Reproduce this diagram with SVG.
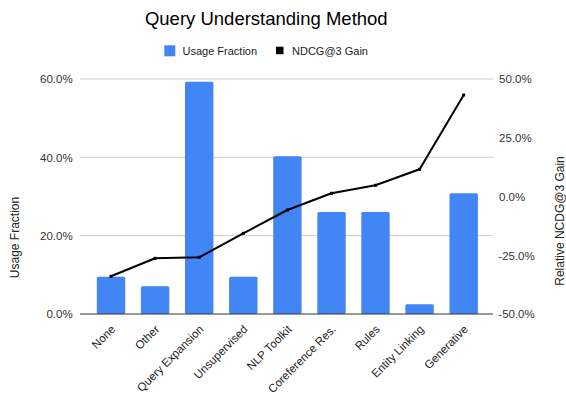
<svg xmlns="http://www.w3.org/2000/svg" width="566" height="400" viewBox="0 0 566 400">
  <style>
    text { font-family: "Liberation Sans", Arial, sans-serif; }
    .title { font-size: 18.5px; fill: #000; }
    .legend { font-size: 11px; fill: #222; }
    .tick { font-size: 11.5px; fill: #333; }
    .axis-title { font-size: 12px; fill: #222; }
    .cat { font-size: 11.5px; fill: #222; text-anchor: end; }
    .grid { stroke: #cccccc; stroke-width: 1; }
    .base { stroke: #333333; stroke-width: 1; }
    .bar { fill: #4285f4; }
    .gain { fill: none; stroke: #000; stroke-width: 2; stroke-linejoin: round; }
    .pt { fill: #000; }
  </style>
  <rect width="566" height="400" fill="#ffffff"/>

  <text class="title" x="266.3" y="25" text-anchor="middle">Query Understanding Method</text>

  <!-- legend -->
  <g id="legend">
    <rect x="164.3" y="45.3" width="11" height="11" fill="#4285f4"/>
    <text class="legend" x="182.5" y="55">Usage Fraction</text>
    <rect x="276" y="46.7" width="7.5" height="7.5" fill="#000"/>
    <text class="legend" x="292" y="55">NDCG@3 Gain</text>
  </g>

  <!-- gridlines -->
  <g id="grid">
    <line class="grid" x1="80" y1="79" x2="493" y2="79"/>
    <line class="grid" x1="80" y1="157.3" x2="493" y2="157.3"/>
    <line class="grid" x1="80" y1="235.7" x2="493" y2="235.7"/>
  </g>

  <!-- left axis -->
  <g id="left-axis" class="tick" text-anchor="end">
    <text x="72.7" y="83">60.0%</text>
    <text x="72.7" y="161.5">40.0%</text>
    <text x="72.7" y="240">20.0%</text>
    <text x="72.7" y="318">0.0%</text>
  </g>
  <text class="axis-title" transform="translate(19,237.5) rotate(-90)" text-anchor="middle">Usage Fraction</text>

  <!-- right axis -->
  <g id="right-axis" class="tick">
    <text x="499" y="83">50.0%</text>
    <text x="499" y="142">25.0%</text>
    <text x="499" y="201">0.0%</text>
    <text x="498.3" y="259.5">-25.0%</text>
    <text x="498.3" y="318">-50.0%</text>
  </g>
  <text class="axis-title" transform="translate(564,221) rotate(-90)" text-anchor="middle">Relative NCDG@3 Gain</text>

  <!-- bars -->
  <g id="bars">
    <g id="bar-none"><rect class="bar" x="96.8" y="276.7" width="28.4" height="37.3" rx="1.5"/></g>
    <g id="bar-other"><rect class="bar" x="140.9" y="286.3" width="28.4" height="27.7" rx="1.5"/></g>
    <g id="bar-query-expansion"><rect class="bar" x="185" y="81.7" width="28.4" height="232.3" rx="1.5"/></g>
    <g id="bar-unsupervised"><rect class="bar" x="229.1" y="276.7" width="28.4" height="37.3" rx="1.5"/></g>
    <g id="bar-nlp-toolkit"><rect class="bar" x="273.2" y="156.3" width="28.4" height="157.7" rx="1.5"/></g>
    <g id="bar-coreference"><rect class="bar" x="317.3" y="212" width="28.4" height="102" rx="1.5"/></g>
    <g id="bar-rules"><rect class="bar" x="361.3" y="212" width="28.4" height="102" rx="1.5"/></g>
    <g id="bar-entity-linking"><rect class="bar" x="405.4" y="304.3" width="28.4" height="9.7" rx="1.5"/></g>
    <g id="bar-generative"><rect class="bar" x="449.5" y="193.3" width="28.4" height="120.7" rx="1.5"/></g>
  </g>

  <line class="base" x1="80" y1="314" x2="493" y2="314"/>

  <!-- NDCG@3 gain series -->
  <g id="connectors">
    <polyline class="gain" points="111,276.3 155.1,258.3 199.2,257.3 243.3,233.3 287.4,210 331.5,193.3 375.5,185.3 419.6,169.3 463.7,95"/>
    <g class="pt">
      <rect x="109.5" y="274.8" width="3" height="3"/>
      <rect x="153.6" y="256.8" width="3" height="3"/>
      <rect x="197.7" y="255.8" width="3" height="3"/>
      <rect x="241.8" y="231.8" width="3" height="3"/>
      <rect x="285.9" y="208.5" width="3" height="3"/>
      <rect x="330" y="191.8" width="3" height="3"/>
      <rect x="374" y="183.8" width="3" height="3"/>
      <rect x="418.1" y="167.8" width="3" height="3"/>
      <rect x="462.2" y="93.5" width="3" height="3"/>
    </g>
  </g>

  <!-- category labels -->
  <g id="categories">
    <text class="cat" transform="translate(116,330) rotate(-45)">None</text>
    <text class="cat" transform="translate(160.1,330) rotate(-45)">Other</text>
    <text class="cat" transform="translate(204.2,330) rotate(-45)">Query Expansion</text>
    <text class="cat" transform="translate(248.3,330) rotate(-45)">Unsupervised</text>
    <text class="cat" transform="translate(292.4,330) rotate(-45)">NLP Toolkit</text>
    <text class="cat" transform="translate(336.5,330) rotate(-45)">Coreference Res.</text>
    <text class="cat" transform="translate(380.5,330) rotate(-45)">Rules</text>
    <text class="cat" transform="translate(424.6,330) rotate(-45)">Entity Linking</text>
    <text class="cat" transform="translate(468.7,330) rotate(-45)">Generative</text>
  </g>
</svg>
